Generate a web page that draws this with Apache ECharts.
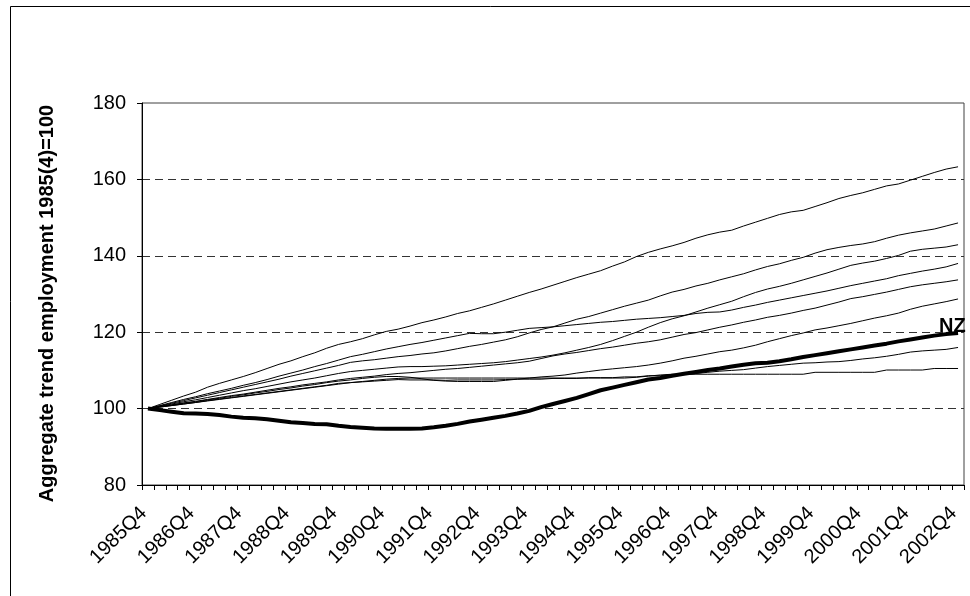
<!DOCTYPE html>
<html>
<head>
<meta charset="utf-8">
<title>Aggregate trend employment</title>
<script src="https://cdn.jsdelivr.net/npm/echarts@6/dist/echarts.min.js"></script>
<style>
html, body { margin: 0; padding: 0; background: #fff; }
#Charts { width: 970px; height: 596px; }
</style>
</head>
<body>
<div id="Charts"></div>
<script>
// quarters, 1985Q4 .. 2002Q4
let quarters = ['1985Q4',
	'1986Q1','1986Q2','1986Q3','1986Q4',
	'1987Q1','1987Q2','1987Q3','1987Q4',
	'1988Q1','1988Q2','1988Q3','1988Q4',
	'1989Q1','1989Q2','1989Q3','1989Q4',
	'1990Q1','1990Q2','1990Q3','1990Q4',
	'1991Q1','1991Q2','1991Q3','1991Q4',
	'1992Q1','1992Q2','1992Q3','1992Q4',
	'1993Q1','1993Q2','1993Q3','1993Q4',
	'1994Q1','1994Q2','1994Q3','1994Q4',
	'1995Q1','1995Q2','1995Q3','1995Q4',
	'1996Q1','1996Q2','1996Q3','1996Q4',
	'1997Q1','1997Q2','1997Q3','1997Q4',
	'1998Q1','1998Q2','1998Q3','1998Q4',
	'1999Q1','1999Q2','1999Q3','1999Q4',
	'2000Q1','2000Q2','2000Q3','2000Q4',
	'2001Q1','2001Q2','2001Q3','2001Q4',
	'2002Q1','2002Q2','2002Q3','2002Q4']

let yTicks = [80, 100, 120, 140, 160, 180]

// other countries (unlabelled thin lines)
let lineA = [100,
	101.1,102.2,103.3,104.3, 105.6,106.6,107.5,108.4, 109.4,110.5,111.6,112.5, 113.6,114.6,115.8,116.8,
	117.5,118.3,119.3,120.2, 120.8,121.6,122.5,123.2, 124.0,124.9,125.6,126.5, 127.4,128.4,129.4,130.4,
	131.3,132.3,133.3,134.3, 135.2,136.1,137.3,138.4, 139.8,140.9,141.8,142.6, 143.5,144.6,145.5,146.2,
	146.7,147.8,148.8,149.8, 150.8,151.5,151.9,152.9, 153.9,155.0,155.8,156.5, 157.4,158.3,158.8,159.8,
	160.8,161.8,162.7,163.3]
let lineB = [100,
	100.8,101.6,102.4,103.1, 103.9,104.6,105.3,106.1, 106.8,107.6,108.5,109.3, 110.1,111.0,111.8,112.7,
	113.6,114.2,114.9,115.6, 116.2,116.8,117.3,117.9, 118.5,119.1,119.7,119.6, 119.6,120.0,120.5,121.0,
	121.2,121.4,122.4,123.4, 124.1,125.0,125.9,126.8, 127.6,128.4,129.5,130.5, 131.2,132.1,132.8,133.7,
	134.5,135.3,136.3,137.2, 137.9,138.8,139.6,140.7, 141.6,142.2,142.7,143.1, 143.7,144.6,145.4,146.0,
	146.5,147.0,147.8,148.6]
let lineC = [100,
	100.6,101.2,101.8,102.3, 102.9,103.5,104.1,104.7, 105.2,105.8,106.4,107.0, 107.5,108.0,108.6,109.2,
	109.7,110.0,110.3,110.6, 110.9,111.0,111.0,111.1, 111.2,111.4,111.6,111.8, 112.0,112.3,112.7,113.1,
	113.5,114.0,114.6,115.3, 116.0,116.8,117.8,118.9, 120.0,121.3,122.5,123.5, 124.3,125.3,126.3,127.2,
	128.1,129.3,130.4,131.3, 132.0,132.8,133.7,134.6, 135.5,136.5,137.5,138.1, 138.6,139.3,140.1,141.2,
	141.7,142.0,142.3,142.9]
let lineD = [100,
	100.7,101.4,102.1,102.8, 103.5,104.2,104.9,105.6, 106.3,107.0,107.7,108.5, 109.2,109.9,110.6,111.3,
	112.1,112.5,112.8,113.2, 113.6,113.9,114.3,114.6, 115.1,115.7,116.3,116.8, 117.4,118.0,118.8,119.8,
	120.7,121.4,121.7,122.0, 122.3,122.6,122.8,123.1, 123.4,123.6,123.8,124.1, 124.4,124.9,125.2,125.3,
	125.8,126.5,127.1,127.8, 128.4,129.0,129.6,130.2, 130.8,131.5,132.2,132.8, 133.4,134.0,134.8,135.4,
	136.0,136.5,137.1,138.0]
let lineE = [100,
	100.5,101.0,101.5,101.9, 102.4,102.9,103.4,103.8, 104.3,104.8,105.3,105.7, 106.2,106.6,107.0,107.5,
	107.9,108.2,108.5,108.9, 109.2,109.4,109.7,110.0, 110.3,110.5,110.8,111.1, 111.4,111.7,112.0,112.4,
	113.1,113.8,114.3,114.7, 115.2,115.7,116.1,116.6, 117.1,117.5,118.0,118.7, 119.4,119.9,120.6,121.3,
	121.9,122.6,123.2,123.9, 124.4,125.0,125.7,126.3, 127.1,127.9,128.8,129.3, 129.9,130.5,131.2,131.9,
	132.4,132.8,133.2,133.7]
let lineF = [100,
	100.5,100.9,101.4,101.8, 102.3,102.7,103.2,103.6, 104.1,104.5,105.0,105.4, 105.9,106.3,106.8,107.2,
	107.5,107.9,108.2,108.4, 108.4,108.2,107.8,107.4, 107.2,107.1,107.1,107.1, 107.1,107.4,107.7,108.0,
	108.3,108.5,108.8,109.3, 109.7,110.1,110.4,110.7, 111.0,111.4,111.9,112.5, 113.2,113.7,114.3,114.9,
	115.3,115.9,116.6,117.5, 118.3,119.1,119.8,120.6, 121.1,121.7,122.3,123.0, 123.7,124.3,125.0,126.0,
	126.8,127.4,128.0,128.7]
let lineG = [100,
	100.4,100.8,101.2,101.6, 102.1,102.5,102.9,103.3, 103.7,104.1,104.5,104.9, 105.3,105.7,106.1,106.6,
	106.8,107.0,107.2,107.4, 107.6,107.5,107.5,107.5, 107.4,107.5,107.5,107.5, 107.5,107.6,107.7,107.7,
	107.7,107.9,107.9,107.9, 108.1,108.1,108.1,108.3, 108.3,108.6,108.6,108.9, 108.9,109.2,109.5,109.8,
	110.0,110.2,110.6,111.0, 111.3,111.6,111.9,112.0, 112.2,112.3,112.6,113.0, 113.3,113.7,114.2,114.8,
	115.1,115.3,115.5,116.0]
let lineH = [100,
	100.4,100.8,101.2,101.6, 102.0,102.4,102.8,103.2, 103.6,104.0,104.4,104.8, 105.2,105.6,106.0,106.4,
	106.8,107.1,107.4,107.7, 107.9,108.0,108.0,108.0, 108.0,108.0,108.0,108.0, 108.0,108.0,108.0,108.0,
	108.0,108.0,108.0,108.0, 108.0,108.0,108.0,108.0, 108.2,108.5,108.8,109.0, 109.0,109.0,109.0,109.0,
	109.0,109.0,109.0,109.0, 109.0,109.0,109.0,109.5, 109.5,109.5,109.5,109.5, 109.5,110.1,110.1,110.1,
	110.1,110.5,110.5,110.5]

// New Zealand (thick line)
let lineNZ = [100,
	99.6,99.2,98.8,98.7, 98.6,98.3,97.9,97.6, 97.5,97.2,96.8,96.4, 96.2,96.0,95.9,95.5,
	95.2,95.0,94.8,94.7, 94.7,94.7,94.8,95.1, 95.5,96.0,96.6,97.1, 97.6,98.1,98.7,99.4,
	100.4,101.2,102.0,102.8, 103.8,104.8,105.5,106.2, 106.9,107.6,108.0,108.6, 109.1,109.6,110.1,110.5,
	111.0,111.5,111.9,112.0, 112.4,112.9,113.5,114.0, 114.5,115.0,115.5,116.0, 116.5,117.0,117.6,118.1,
	118.6,119.1,119.5,119.8]

let otherLines = [lineA, lineB, lineC, lineD, lineE, lineF, lineG, lineH]

var FONT = '"Liberation Sans", Arial, sans-serif'

var chart = echarts.init(document.getElementById("Charts"), null, {renderer: 'canvas'});

let seriesList = otherLines.map(function(d, k) {
	return {
		name: 'c' + k,
		type: 'line',
		data: d,
		symbol: 'none',
		silent: true,
		lineStyle: { color: '#000', width: 1 }
	}
})
seriesList.push({
	name: 'NZ',
	type: 'line',
	data: lineNZ,
	symbol: 'none',
	silent: true,
	z: 5,
	lineStyle: { color: '#000', width: 4 },
	endLabel: {
		show: true,
		formatter: 'NZ',
		color: '#000',
		fontFamily: FONT,
		fontWeight: 'bold',
		fontSize: 20,
		offset: [-27, -6]
	}
})

option = {
	backgroundColor: '#FFFFFF',
	animation: false,
	textStyle: { fontFamily: FONT },
	grid: {
		left: 142,
		right: 6,
		top: 103,
		bottom: 111,
		show: true,
		borderColor: '#404040',
		borderWidth: 1
	},
	// outer chart border (Excel chart area)
	graphic: [{
		type: 'rect',
		left: 8,
		top: 4,
		shape: { width: 1000, height: 1000 },
		style: { fill: 'none', stroke: '#000', lineWidth: 1 },
		silent: true
	}],
	xAxis: {
		type: 'category',
		data: quarters,
		boundaryGap: true,
		axisLine: { lineStyle: { color: '#000', width: 1 } },
		axisTick: { show: true, interval: 0, inside: false, length: 5, lineStyle: { color: '#000' } },
		axisLabel: {
			interval: 3,
			rotate: 45,
			margin: 21,
			padding: [0, 6, 0, 0],
			color: '#000',
			fontSize: 20,
			fontFamily: FONT
		},
		splitLine: { show: false }
	},
	yAxis: {
		type: 'value',
		min: yTicks[0],
		max: yTicks[yTicks.length - 1],
		interval: yTicks[1] - yTicks[0],
		name: 'Aggregate trend employment 1985(4)=100',
		nameLocation: 'middle',
		nameGap: 85,
		nameTextStyle: {
			color: '#000',
			fontSize: 20,
			fontWeight: 'bold',
			fontFamily: FONT,
			padding: [0, 19, 0, 0]
		},
		axisLine: { show: true, lineStyle: { color: '#000', width: 1 } },
		axisTick: { show: true, inside: false, length: 5, lineStyle: { color: '#000' } },
		axisLabel: { margin: 16, color: '#000', fontSize: 20, fontFamily: FONT },
		splitLine: {
			show: true,
			showMaxLine: false,
			lineStyle: { color: '#333', width: 1, type: [8, 5] }
		}
	},
	series: seriesList
};

chart.setOption(option);
</script>
</body>
</html>
